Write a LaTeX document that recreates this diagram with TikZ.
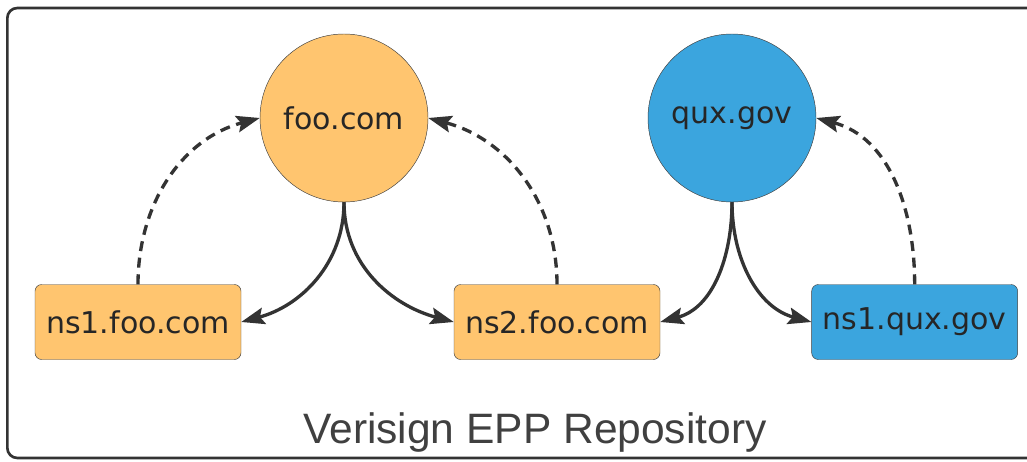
\documentclass[tikz,border=0pt]{standalone}
\usepackage{fontspec}
\setmainfont{DejaVu Sans}
\newfontfamily\titlefont{Liberation Sans}
\usetikzlibrary{arrows.meta,positioning}
\definecolor{fooorange}{HTML}{FFC56F}
\definecolor{quxblue}{HTML}{3BA5DE}
\definecolor{linegray}{HTML}{333333}

\begin{document}
\begin{tikzpicture}
  % Estilos
  \tikzstyle{domnode}=[circle, draw=black!75, thin, minimum size=5.04cm, inner sep=0pt, font=\fontsize{25.6}{30}\selectfont, text=black!85]
  \tikzstyle{hostbox}=[rectangle, rounded corners=0.2cm, draw=black!75, thin, minimum width=6.18cm, minimum height=2.25cm, inner sep=0pt, font=\fontsize{25.6}{30}\selectfont, text=black!85]
  \tikzstyle{deleg}=[-{Stealth[length=0.7cm,width=0.5cm,inset=0.12cm]}, line width=0.1cm, linegray]
  \tikzstyle{glue}=[deleg, line width=0.1cm, dash pattern=on 0.3cm off 0.2cm]

  \useasboundingbox (0,0) rectangle (30.81,-13.83);

  % Marco del repositorio
  \draw[rounded corners=0.3cm, line width=0.08cm, linegray] (0.22,-0.24) rectangle (31.3,-13.74);
  \node[anchor=base, font=\titlefont\fontsize{36.3}{40}\selectfont, text=black!75] (repo) at (16.05,-13.29) {Verisign EPP Repository};

  % Dominios
  \node[domnode, fill=fooorange] (foo) at (10.32,-3.54) {foo.com};
  \node[domnode, fill=quxblue] (qux) at (21.96,-3.54) {qux.gov};

  % Hosts
  \node[hostbox, fill=fooorange] (ns1foo) at (4.14,-9.66) {ns1.foo.com};
  \node[hostbox, fill=fooorange] (ns2foo) at (16.71,-9.66) {ns2.foo.com};
  \node[hostbox, fill=quxblue] (ns1qux) at (27.44,-9.66) {ns1.qux.gov};

  % Delegaciones (dominio -> host)
  \draw[deleg] (foo.south) to[out=-90, in=15] (ns1foo.east);
  \draw[deleg] (foo.south) to[out=-90, in=165] (ns2foo.west);
  \draw[deleg] (qux.south) to[out=-90, in=15] (ns2foo.east);
  \draw[deleg] (qux.south) to[out=-90, in=165] (ns1qux.west);

  % Subordinacion (host -> dominio)
  \draw[glue] (ns1foo.north) to[out=90, in=195] (foo.west);
  \draw[glue] (ns2foo.north) to[out=90, in=-15] (foo.east);
  \draw[glue] (ns1qux.north) to[out=90, in=-15] (qux.east);
\end{tikzpicture}
\end{document}
